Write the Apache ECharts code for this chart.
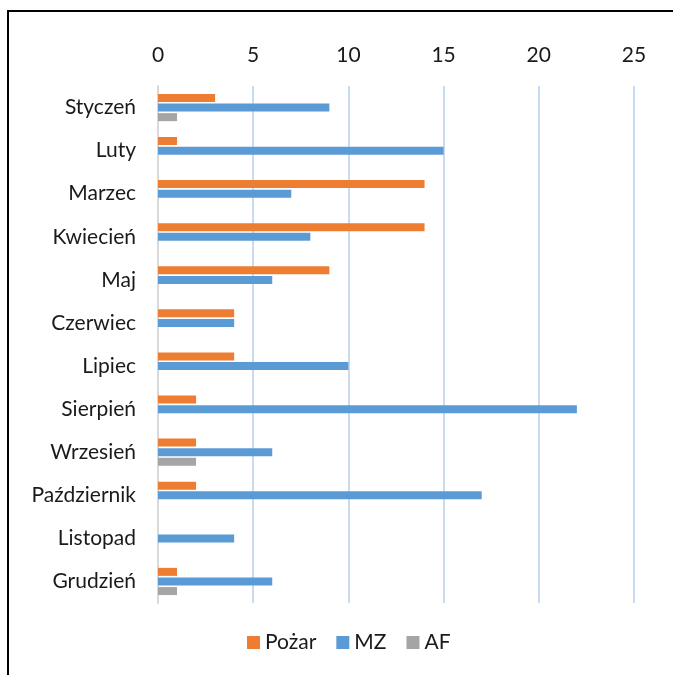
<!DOCTYPE html>
<html>
<head>
<meta charset="utf-8">
<script src="https://cdn.jsdelivr.net/npm/echarts@6/dist/echarts.min.js"></script>
<style>
html,body{margin:0;padding:0;background:#fff;}
#frame{position:absolute;left:7px;top:10px;width:700px;height:700px;border-top:2px solid #000;border-left:2px solid #000;}
#chart{position:absolute;left:0;top:0;width:673px;height:675px;}
</style>
</head>
<body>
<div id="frame"></div>
<div id="chart"></div>
<script>
const categories = ['Styczeń','Luty','Marzec','Kwiecień','Maj','Czerwiec','Lipiec','Sierpień','Wrzesień','Październik','Listopad','Grudzień'];
const pozar = [3, 1, 14, 14, 9, 4, 4, 2, 2, 2, 0, 1];
const mz = [9, 15, 7, 8, 6, 4, 10, 22, 6, 17, 4, 6];
const af = [1, 0, 0, 0, 0, 0, 0, 0, 2, 0, 0, 1];
const xTicks = [0, 5, 10, 15, 20, 25];

const font = 'Lato';
const fs = 21;
const chart = echarts.init(document.getElementById('chart'), null, {renderer: 'canvas'});
function bar(name, data, color) {
  return {
    name: name, type: 'bar', data: data, barWidth: 8, barGap: '20%',
    itemStyle: {color: color},
    emphasis: {disabled: true}
  };
}
chart.setOption({
  animation: false,
  backgroundColor: 'transparent',
  grid: {left: 158, right: 39, top: 86, bottom: 72, containLabel: false},
  xAxis: {
    type: 'value', position: 'top', min: xTicks[0], max: xTicks[xTicks.length-1], interval: 5,
    axisLine: {show: false}, axisTick: {show: false},
    axisLabel: {color: '#1a1a1a', fontSize: fs, fontFamily: font, margin: 20},
    splitLine: {show: true, lineStyle: {color: '#C9DBF0', width: 2}}
  },
  yAxis: {
    type: 'category', data: categories, inverse: true,
    axisLine: {show: true, lineStyle: {color: '#D9D9D9', width: 2}},
    axisTick: {show: false},
    axisLabel: {color: '#1a1a1a', fontSize: fs, fontFamily: font, margin: 22}
  },
  legend: {
    bottom: 17, left: 242, itemWidth: 13, itemHeight: 13, itemGap: 20,
    icon: 'rect',
    textStyle: {color: '#1a1a1a', fontSize: fs, fontFamily: font},
    data: ['Pożar','MZ','AF']
  },
  series: [
    bar('Pożar', pozar, '#ED7D31'),
    bar('MZ', mz, '#5B9BD5'),
    bar('AF', af, '#A5A5A5')
  ]
});
</script>
</body>
</html>
